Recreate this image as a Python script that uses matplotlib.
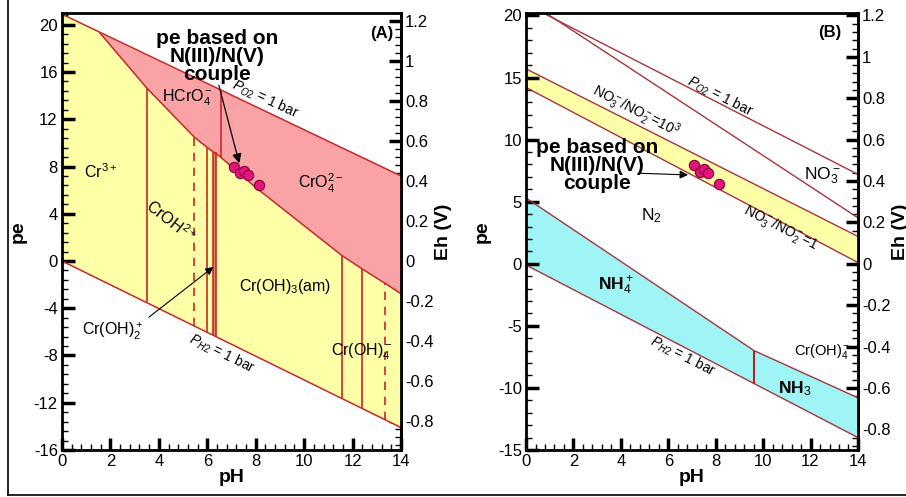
import numpy as np
import matplotlib.pyplot as plt
from matplotlib.ticker import MultipleLocator, AutoMinorLocator, FixedLocator, FormatStrFormatter
from matplotlib.lines import Line2D

plt.rcParams['font.family'] = ['Liberation Sans', 'DejaVu Sans']
plt.rcParams['axes.unicode_minus'] = False
plt.rcParams['mathtext.fontset'] = 'custom'
plt.rcParams['mathtext.rm'] = 'Liberation Sans'
plt.rcParams['mathtext.it'] = 'Liberation Sans:italic'
plt.rcParams['mathtext.bf'] = 'Liberation Sans:bold'

# ---- panel A (Cr) data ----
edge_ph = [0, 14]
o2_pe_A = [20.9, 7.2]
h2_pe_A = [0.0, -14.1]
cr_ph = [1.57, 3.5, 5.46, 6.0, 6.55, 8.04, 11.55, 12.38, 13.35, 14]
cr_pe = [19.3, 14.65, 10.5, 9.6, 8.8, 6.16, 0.48, -0.65, -1.9, -2.77]
vline_ph = [3.5, 6.0, 6.55, 11.55, 12.38]
vline_lo = [-3.5, -6.05, 8.8, -11.6, -12.45]
vline_hi = [14.65, 9.6, 14.5, 0.48, -0.65]
dash_ph = [5.46, 13.35]
dash_lo = [-5.5, -13.45]
dash_hi = [10.5, -1.9]
band_ph = [6.25, 6.38]
band_lo = [-6.3, -6.4]
band_hi = [9.35, 9.25]

# ---- panel B (N) data ----
o2_pe_B = [20.9, 7.2]
no3_ph = [0, 14]
no3_pe = [21.25, 3.7]
nb_hi = [15.7, 2.2]
nb_lo = [14.2, 0.1]
nh_ph = [0, 9.62, 14]
nh_pe = [5.3, -7.0, -10.8]
h2_pe_B = [-0.1, -14.0]
nh_split_ph = 9.62
nh_split = [-9.65, -7.0]

# measured samples
samp_ph = [7.1, 7.35, 7.52, 7.68, 8.14]
samp_pe = [7.95, 7.42, 7.63, 7.3, 6.45]

# Eh tick labels shown on the right axes
eh_ticks = [-0.8, -0.6, -0.4, -0.2, 0, 0.2, 0.4, 0.6, 0.8, 1, 1.2]

YELLOW = '#ffffa8'
PINK = '#f9a3a6'
CYAN = '#9ff5f5'
RED = '#c8282a'
DRED = '#a8343a'


def style(ax, ylo, yhi, ymaj, factor):
    ax.set_xlim(0, 14)
    ax.set_ylim(ylo, yhi)
    ax.xaxis.set_major_locator(MultipleLocator(2))
    ax.xaxis.set_minor_locator(AutoMinorLocator(5))
    ax.yaxis.set_major_locator(MultipleLocator(ymaj))
    ax.yaxis.set_minor_locator(AutoMinorLocator(5))
    ax.tick_params(which='both', direction='in', top=False, right=False)
    ax.tick_params(which='major', length=9, width=2.5, labelsize=12, pad=3)
    ax.tick_params(which='minor', length=4, width=1)
    for s in ax.spines.values():
        s.set_linewidth(2)
    sec = ax.secondary_yaxis('right', functions=(lambda p: p * factor, lambda e: e / factor))
    sec.yaxis.set_major_locator(FixedLocator(eh_ticks))
    sec.yaxis.set_minor_locator(AutoMinorLocator(5))
    sec.yaxis.set_major_formatter(FormatStrFormatter('%g'))
    sec.tick_params(which='both', direction='in')
    sec.tick_params(which='major', length=9, width=2.5, labelsize=12, pad=3)
    sec.tick_params(which='minor', length=4, width=1)
    sec.spines['right'].set_linewidth(2)
    sec.set_ylabel('Eh (V)', fontsize=14, fontweight='bold', labelpad=1)
    ax.set_xlabel('pH', fontsize=14, fontweight='bold', labelpad=0)
    ax.set_ylabel('pe', fontsize=14, fontweight='bold', labelpad=5)
    return sec


fig = plt.figure(figsize=(9.06, 4.97), dpi=100)
axA = fig.add_axes([0.0684, 0.0946, 0.3742, 0.8793])
axB = fig.add_axes([0.5806, 0.0946, 0.3664, 0.8793])

# ---------------- panel A ----------------
axA.fill(edge_ph + edge_ph[::-1], o2_pe_A + h2_pe_A[::-1], color=YELLOW, lw=0)
axA.fill(cr_ph + [edge_ph[1]], cr_pe + [o2_pe_A[1]], color=PINK, lw=0)
axA.plot(edge_ph, o2_pe_A, color=RED, lw=1.1)
axA.plot(edge_ph, h2_pe_A, color=RED, lw=1.1)
axA.plot(cr_ph, cr_pe, color=RED, lw=1.1)
axA.vlines(vline_ph, vline_lo, vline_hi, color=RED, lw=1.2)
axA.vlines(dash_ph, dash_lo, dash_hi, color=RED, lw=1.2, linestyles=(0, (5, 4)))
axA.fill_betweenx([max(band_lo), min(band_hi)], band_ph[0], band_ph[1], color='#d98a5a', lw=0)
axA.vlines(band_ph, band_lo, band_hi, color=RED, lw=1.2)
axA.scatter(samp_ph, samp_pe, s=55, color='#e8127f', edgecolor='#7a0030', lw=0.8, zorder=5)

axA.text(6.4, 17.3, 'pe based on\nN(III)/N(V)\ncouple', ha='center', va='center',
         fontsize=15, fontweight='bold', linespacing=0.95)
axA.annotate('', xy=(7.35, 8.05), xytext=(6.45, 15.1),
             arrowprops=dict(arrowstyle='-|>', color='black', lw=0.9, mutation_scale=14))
axA.text(13.2, 19.3, '(A)', ha='center', va='center', fontsize=12, fontweight='bold')
axA.text(1.6, 7.6, r'Cr$^{3+}$', ha='center', va='center', fontsize=11.5)
axA.text(4.5, 3.4, r'CrOH$^{2+}$', ha='center', va='center', fontsize=11.5, rotation=-38)
axA.text(5.2, 13.8, r'HCrO$_4^-$', ha='center', va='center', fontsize=11.5)
axA.text(8.4, 13.7, r'$P_{O2}$ = 1 bar', ha='center', va='center', fontsize=10, rotation=-25)
axA.text(10.7, 6.6, r'CrO$_4^{2-}$', ha='center', va='center', fontsize=11.5)
axA.text(9.2, -2.2, r'Cr(OH)$_3$(am)', ha='center', va='center', fontsize=11.5)
axA.text(2.1, -6.0, r'Cr(OH)$_2^+$', ha='center', va='center', fontsize=11.5)
axA.annotate('', xy=(6.35, -0.35), xytext=(3.5, -4.9),
             arrowprops=dict(arrowstyle='-|>', color='black', lw=0.8, mutation_scale=12))
axA.text(6.6, -7.9, r'$P_{H2}$ = 1 bar', ha='center', va='center', fontsize=10, rotation=-26)
axA.text(12.4, -7.7, r'Cr(OH)$_4^-$', ha='center', va='center', fontsize=11.5)
style(axA, -16, 21, 4, 0.05916)

# ---------------- panel B ----------------
axB.fill_between(edge_ph, nb_lo, nb_hi, color=YELLOW, lw=0)
axB.fill(nh_ph + edge_ph[::-1], nh_pe + h2_pe_B[::-1], color=CYAN, lw=0)
axB.plot(edge_ph, o2_pe_B, color=DRED, lw=1.0)
axB.plot(no3_ph, no3_pe, color=DRED, lw=1.0)
axB.plot(edge_ph, nb_hi, color=DRED, lw=1.0)
axB.plot(edge_ph, nb_lo, color=DRED, lw=1.0)
axB.plot(nh_ph, nh_pe, color=DRED, lw=1.0)
axB.plot(edge_ph, h2_pe_B, color=DRED, lw=1.0)
axB.vlines([nh_split_ph], nh_split[0], nh_split[1], color='#b8202a', lw=1.5)
axB.scatter(samp_ph, samp_pe, s=55, color='#e8127f', edgecolor='#7a0030', lw=0.8, zorder=5)

axB.text(3.0, 7.9, 'pe based on\nN(III)/N(V)\ncouple', ha='center', va='center',
         fontsize=15, fontweight='bold', linespacing=0.95)
axB.annotate('', xy=(6.95, 7.15), xytext=(4.6, 7.3),
             arrowprops=dict(arrowstyle='-|>', color='black', lw=0.8, mutation_scale=12))
axB.text(12.8, 18.6, '(B)', ha='center', va='center', fontsize=12, fontweight='bold')
axB.text(8.2, 13.5, r'$P_{O2}$ = 1 bar', ha='center', va='center', fontsize=10, rotation=-27)
axB.text(4.6, 12.3, r'NO$_3^-$/NO$_2^-$=10$^3$', ha='center', va='center', fontsize=10, rotation=-27)
axB.text(10.75, 2.9, r'NO$_3^-$/NO$_2^-$=1', ha='center', va='center', fontsize=10, rotation=-27)
axB.text(12.5, 7.1, r'NO$_3^-$', ha='center', va='center', fontsize=12.5)
axB.text(5.3, 3.9, r'N$_2$', ha='center', va='center', fontsize=12.5)
axB.text(3.8, -1.8, r'NH$_4^+$', ha='center', va='center', fontsize=12.5, fontweight='bold')
axB.text(11.35, -10.1, r'NH$_3$', ha='center', va='center', fontsize=12.5, fontweight='bold')
axB.text(6.6, -7.5, r'$P_{H2}$ = 1 bar', ha='center', va='center', fontsize=10, rotation=-27)
axB.text(12.5, -7.1, r'Cr(OH)$_4^-$', ha='center', va='center', fontsize=10.5)
style(axB, -15, 20.2, 5, 0.06)

# outer frame of the original figure
fig.add_artist(Line2D([8 / 906, 8 / 906], [0.004, 1.0], transform=fig.transFigure, color='black', lw=1.2))
fig.add_artist(Line2D([8 / 906, 1.0], [0.004, 0.004], transform=fig.transFigure, color='black', lw=1.2))

fig.savefig('out.png', dpi=100)
